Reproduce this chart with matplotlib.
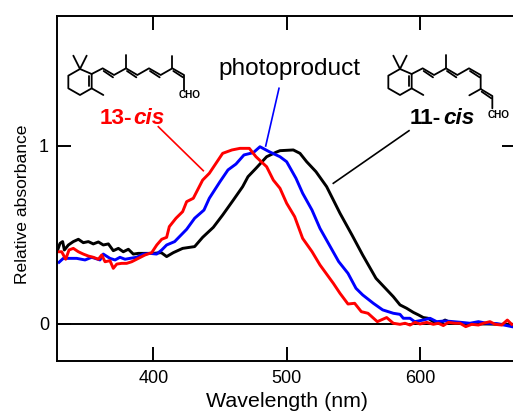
import matplotlib
matplotlib.use("Agg")
import matplotlib.pyplot as plt

plt.rcParams["font.family"] = ["Liberation Sans", "DejaVu Sans"]

# spectra
wl_11cis = [328.3, 330, 332, 333.3, 336.3, 340, 343.8, 347.5, 351.3, 355, 358.8, 362.5, 366.3, 370, 373.8, 377.5,
            381.3, 385, 388.8, 391.8, 400, 406, 410, 415, 422, 431, 437, 445, 452, 460, 467, 471, 477, 485, 492,
            495, 505, 510, 515, 522, 530, 540, 549, 557, 567, 580, 585, 590, 595, 598.8, 602.5, 606, 610, 615,
            618.8, 622.5, 630, 640, 650, 660, 670]
abs_11cis = [.415, .452, .462, .415, .443, .462, .475, .456, .462, .449, .460, .443, .449, .411, .424, .405, .419,
             .392, .396, .396, .396, .400, .378, .400, .424, .434, .486, .542, .611, .695, .770, .826, .873, .938,
             .963, .972, .976, .957, .910, .854, .770, .621, .499, .387, .256, .153, .107, .088, .065, .051, .036,
             .032, .013, .004, .022, .009, .004, 0, 0, -.002, -.002]

wl_photo = [329.3, 332.5, 337.5, 342.5, 348.8, 353.8, 360, 362.5, 367.5, 371.3, 375, 378.8, 382.5, 387.5, 392.5,
            397.5, 402.5, 406.3, 410, 416, 425, 431, 438, 442, 450, 456, 462, 468, 475, 480, 487, 495, 500, 507,
            512, 519, 525, 532, 539, 546, 552, 557, 565, 572, 580, 585, 587.5, 592.5, 596, 602.5, 607.5, 612.5,
            618.8, 625, 631, 637.5, 643.8, 650, 657.5, 665, 668.8]
abs_photo = [.346, .368, .368, .368, .359, .374, .359, .392, .368, .359, .374, .363, .368, .374, .392, .396, .392,
             .415, .443, .462, .531, .593, .639, .705, .798, .864, .897, .948, .961, .994, .966, .938, .910, .817,
             .733, .639, .536, .443, .350, .284, .200, .163, .116, .079, .060, .054, .032, .032, .013, .022, .032,
             .013, .017, .013, .009, .004, .013, .004, .002, -.009, -.015]

wl_13cis = [328.8, 331.3, 334.3, 336.8, 340, 343.8, 347.5, 351.3, 355, 358.8, 361.3, 363.8, 367.5, 370, 372.6,
            376.3, 380, 383.8, 388.8, 393.8, 398.8, 402.6, 406.3, 410, 412, 417, 422, 425, 430, 437, 442, 447,
            452, 459, 465, 472, 477, 485, 490, 495, 500, 506, 512, 519, 525, 535, 540, 546, 551, 556, 561, 568,
            575, 580, 585, 588.8, 592.5, 596.3, 600, 605, 610, 613.8, 617.5, 621.3, 626.3, 630, 634.3, 638.8,
            643.8, 647.5, 652.5, 656.3, 661.3, 665.5, 668.8]
abs_13cis = [.405, .405, .363, .415, .424, .405, .392, .381, .374, .363, .387, .349, .355, .312, .336, .340, .340,
             .349, .368, .387, .400, .443, .475, .486, .546, .593, .630, .686, .705, .807, .845, .901, .957, .976,
             .985, .985, .938, .882, .807, .761, .677, .602, .480, .406, .331, .228, .172, .112, .116, .069, .060,
             .013, .036, .004, -.002, .004, -.006, .009, 0, .009, -.002, .004, -.009, .009, .004, .004, -.015,
             -.002, -.006, .004, .013, -.002, -.006, .022, -.002]

xticks = [400, 500, 600]
yticks = [0, 1]

W, H = 513, 412
fig = plt.figure(figsize=(W / 100, H / 100), dpi=100)
ax = fig.add_axes([57.3 / W, 1 - 360.7 / H, (516 - 57.3) / W, (360.7 - 15.7) / H])

ax.axhline(0, color="k", lw=1.4)
ax.plot(wl_11cis, abs_11cis, color="k", lw=2.1)
ax.plot(wl_photo, abs_photo, color="#0000ff", lw=2.1)
ax.plot(wl_13cis, abs_13cis, color="#ff0000", lw=2.1)

ax.set_xlim(328, 672)
ax.set_ylim(-0.206, 1.729)
ax.set_xticks(xticks)
ax.set_yticks(yticks)
ax.tick_params(direction="in", top=True, right=True, length=10, width=1.4, labelsize=13)
ax.tick_params(axis="x", pad=7)
ax.tick_params(axis="y", pad=6)
for s in ax.spines.values():
    s.set_linewidth(1.4)
ax.set_xlabel("Wavelength (nm)", fontsize=15.4, labelpad=3)
ax.set_ylabel("Relative absorbance", fontsize=12.6)
ax.yaxis.set_label_coords((30 - 57.3) / 458.7, (360.7 - 204) / 345)

# overlay in pixel coordinates for the labels and molecules
ov = fig.add_axes([0, 0, 1, 1])
ov.set_xlim(0, W)
ov.set_ylim(H, 0)
ov.axis("off")
ov.patch.set_alpha(0)


def bonds(points, ox, oy, lw=1.3):
    # points are in 1/3 pixel units
    xs = [ox + p[0] / 3 for p in points]
    ys = [oy + p[1] / 3 for p in points]
    ov.plot(xs, ys, color="k", lw=lw, solid_capstyle="round", solid_joinstyle="round")


def ring(ox, oy):
    bonds([(120, 177), (85, 197), (85, 235), (120, 255), (155, 235), (155, 192), (120, 177)], ox, oy)
    bonds([(100, 137), (120, 177), (140, 137)], ox, oy)
    bonds([(155, 235), (190, 255)], ox, oy)
    bonds([(147, 199), (147, 229)], ox, oy)


def second_bond(a, b, ox, oy):
    bonds([(a[0] + 3, a[1] + 8), (b[0] - 3, b[1] + 7)], ox, oy)


# 13-cis
ring(40, 10)
chain = [(155, 192), (188, 175), (222, 195), (258, 175), (292, 195), (327, 175), (362, 195), (397, 175), (432, 195), (432, 240)]
bonds(chain, 40, 10)
bonds([(258, 175), (258, 135)], 40, 10)
bonds([(397, 175), (397, 137)], 40, 10)
for i in [1, 3, 5, 7]:
    second_bond(chain[i], chain[i + 1], 40, 10)
ov.text(179, 97.5, "CHO", fontsize=7.2, fontweight="bold", ha="left", va="baseline")

# 11-cis
ox = 360
ring(ox, 10)
chain = [(155, 192), (188, 175), (222, 195), (258, 175), (292, 195), (327, 175), (362, 195), (362, 237), (397, 258), (397, 295)]
bonds(chain, ox, 10)
bonds([(258, 175), (258, 135)], ox, 10)
bonds([(362, 237), (328, 256)], ox, 10)
for i in [1, 3, 5, 7]:
    second_bond(chain[i], chain[i + 1], ox, 10)
ov.text(488, 117.5, "CHO", fontsize=7.2, fontweight="bold", ha="left", va="baseline")

ov.text(100, 124, "13-", color="#ff0000", fontsize=16.2, fontweight="bold", ha="left", va="baseline")
ov.text(133, 124, "cis", color="#ff0000", fontsize=16.2, fontweight="bold", fontstyle="italic", ha="left", va="baseline")
ov.text(410, 124, "11-", color="k", fontsize=16.2, fontweight="bold", ha="left", va="baseline")
ov.text(443, 124, "cis", color="k", fontsize=16.2, fontweight="bold", fontstyle="italic", ha="left", va="baseline")
ov.text(218, 75, "photoproduct", color="k", fontsize=17.6, ha="left", va="baseline")

# leader lines
ov.plot([158.3, 203.3], [126.7, 170.7], color="#ff0000", lw=1.2)
ov.plot([279, 265.7], [88.3, 146], color="#0000ff", lw=1.2)
ov.plot([409, 333.3], [130.7, 183.3], color="k", lw=1.2)

fig.savefig("out.png", dpi=100)
